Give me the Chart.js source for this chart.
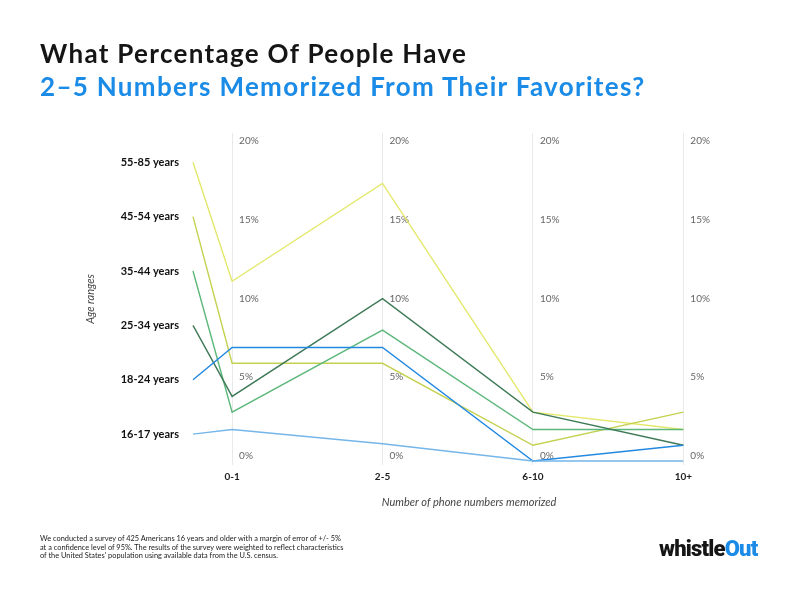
<!DOCTYPE html>
<html><head><meta charset="utf-8">
<script src="https://cdn.jsdelivr.net/npm/chart.js@4/dist/chart.umd.min.js"></script>
<style>
html,body{margin:0;padding:0;background:#fff;}
#wrap{position:relative;width:800px;height:600px;overflow:hidden;}
#c{position:absolute;left:0;top:0;}
.t{position:absolute;left:40px;font-family:Lato,sans-serif;font-weight:700;font-size:26px;white-space:nowrap;letter-spacing:1.3px;}
#t1{top:37px;color:#151515;}
#t2{top:70px;color:#1a8be6;}
#note{position:absolute;left:40px;top:535px;font-family:Lato,sans-serif;font-size:7.4px;line-height:8.6px;color:#222;white-space:nowrap;}
#logo{position:absolute;left:659px;top:536px;font-family:Roboto,sans-serif;font-weight:900;font-size:22px;letter-spacing:-0.8px;color:#151515;}
#logo span{color:#1a8be6;}
</style></head>
<body><div id="wrap">
<canvas id="c" width="800" height="600"></canvas>
<div class="t" id="t1">What Percentage Of People Have</div>
<div class="t" id="t2">2–5 Numbers Memorized From Their Favorites?</div>
<div id="note">We conducted a survey of 425 Americans 16 years and older with a margin of error of +/- 5%<br>at a confidence level of 95%. The results of the survey were weighted to reflect characteristics<br>of the United States' population using available data from the U.S. census.</div>
<div id="logo">whistle<span>Out</span></div>
</div>
<script>
const categories = ['0-1', '2-5', '6-10', '10+'];
const ages = ['16-17 years', '18-24 years', '25-34 years', '35-44 years', '45-54 years', '55-85 years'];
const yTicks = [0, 5, 10, 15, 20];
const s16_17 = [2.0, 1.1, 0, 0];
const s18_24 = [7.2, 7.2, 0, 1.0];
const s25_34 = [4.1, 10.3, 3.1, 1.0];
const s35_44 = [3.1, 8.3, 2.0, 2.0];
const s45_54 = [6.2, 6.2, 1.0, 3.1];
const s55_85 = [11.4, 17.6, 3.1, 2.0];
const seriesValues = [s16_17, s18_24, s25_34, s35_44, s45_54, s55_85];
const colors = ['#74b6ea', '#2288e0', '#3f7a58', '#5cb87a', '#c5d150', '#e3e86a'];

// age-row axis layout: rows evenly spaced on the left axis
const Y_MIN = -0.25, Y_MAX = 20.8;
const AGE_FIRST = 1.71, AGE_STEP = 3.446;
const agePos = i => AGE_FIRST + AGE_STEP * i;
const X_START = -0.26, X_MAX = 3.41;

const datasets = seriesValues.map((vals, i) => ({
  label: ages[i],
  data: [{x: X_START, y: agePos(i)}].concat(vals.map((v, j) => ({x: j, y: v}))),
  borderColor: colors[i],
  backgroundColor: colors[i],
  borderWidth: 1.4,
  pointRadius: 0,
  tension: 0,
  fill: false,
  clip: false,
  xAxisID: 'x',
  yAxisID: 'y'
}));

const colLabels = {
  id: 'colLabels',
  beforeDatasetsDraw(chart) {
    const {ctx, scales: {x, y}} = chart;
    ctx.save();
    ctx.font = '10px Lato';
    ctx.fillStyle = '#666';
    ctx.textAlign = 'left';
    ctx.textBaseline = 'middle';
    categories.forEach((c, j) => {
      const px = x.getPixelForValue(j) + 7;
      yTicks.forEach(t => ctx.fillText(t + '%', px, y.getPixelForValue(t) - 5));
    });
    ctx.restore();
  }
};

new Chart(document.getElementById('c'), {
  type: 'line',
  data: {datasets},
  plugins: [colLabels],
  options: {
    responsive: false,
    animation: false,
    layout: {padding: {left: 80, right: 55, top: 133, bottom: 85}},
    plugins: {legend: {display: false}, tooltip: {enabled: false}},
    scales: {
      x: {
        type: 'linear', min: X_START, max: X_MAX,
        afterBuildTicks: s => { s.ticks = categories.map((c, i) => ({value: i})); },
        afterFit: s => { s.height = 50; },
        grid: {color: '#e9e9e9', drawTicks: false, lineWidth: 1},
        border: {display: false},
        ticks: {callback: v => categories[v], font: {family: 'Lato', weight: 'bold', size: 10}, color: '#222', padding: 6, maxRotation: 0},
        title: {display: true, text: 'Number of phone numbers memorized', font: {family: 'Lato', style: 'italic', size: 11}, color: '#444', padding: {top: 0, bottom: 6}}
      },
      y: {type: 'linear', min: Y_MIN, max: Y_MAX, display: false},
      yAge: {
        type: 'linear', position: 'left', min: Y_MIN, max: Y_MAX,
        afterBuildTicks: s => { s.ticks = ages.map((a, i) => ({value: agePos(i)})); },
        afterFit: s => { s.width = 113; },
        grid: {display: false, drawTicks: false},
        border: {display: false},
        ticks: {callback: (v, i) => ages[i], font: {family: 'Lato', weight: 'bold', size: 11}, color: '#111', padding: 14, autoSkip: false},
        title: {display: true, text: 'Age ranges', font: {family: 'Lato', style: 'italic', size: 11}, color: '#444', padding: {top: 4, bottom: 0}}
      }
    }
  }
});
</script>
</body></html>
